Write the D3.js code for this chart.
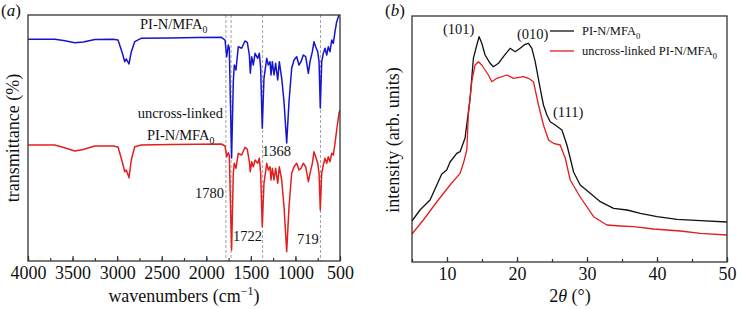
<!DOCTYPE html>
<html>
<head>
<meta charset="utf-8">
<script src="https://cdn.jsdelivr.net/npm/d3@7"></script>
<style>
  body { margin: 0; background: #fff; }
  svg text { font-family: "Liberation Serif", "DejaVu Serif", serif; fill: #111; }
</style>
</head>
<body>
<svg id="chart" width="737" height="309"></svg>
<script>
// ---- panel (a): FTIR, wavenumbers in cm-1, transmittance in arb. units (curves offset)
const wavenumbers = [4000, 3700, 3600, 3476, 3380, 3250, 3046, 2990, 2942, 2915, 2897, 2867, 2841, 2803, 2732, 2400, 2100, 1831,
  1790, 1771, 1753, 1742, 1716, 1697, 1686, 1667, 1641, 1603, 1566, 1540, 1517, 1506, 1491, 1472, 1453, 1423, 1405,
  1390, 1372, 1353, 1322, 1304, 1285, 1274, 1259, 1240, 1222, 1199, 1181, 1154, 1128, 1098, 1072, 1042, 1016, 986,
  960, 937, 912, 885, 855, 836, 810, 792, 773, 750, 735, 721, 705, 687, 668, 649, 631, 612, 593, 575, 556, 537, 511, 500]
const ftirCrosslinked = [221.7, 221.7, 220.5, 218.3, 219, 221.5, 221.7, 221, 208, 199.3, 202, 197, 209.3, 219.3, 222.7, 223, 223.5, 223.7,
  221, 204.3, 216, 213, 103, 179.3, 196, 191, 214.3, 212.7, 220, 218.7, 206, 187.7, 204.3, 196, 207.7, 202.7, 207.7,
  192.7, 132.7, 182.7, 202.7, 196, 199.3, 186, 199.3, 186, 197.7, 181, 199.3, 182.7, 159.3, 118, 159.3, 192.7, 201, 204.3,
  196, 199.3, 206, 204.3, 187.7, 199.3, 209.3, 219.3, 214.3, 209.3, 199.3, 153, 199.3, 207.7, 212.7, 206, 214.3, 209.3, 221, 217.7, 229.3, 239.3, 246, 249]
const ftirUncrosslinked = [116, 116, 113.5, 110, 111.5, 115, 115, 114, 99, 89.3, 91, 83.3, 101, 114.3, 116, 116.5, 116.7, 117,
  115, 104.3, 108.3, 106, 11, 87.7, 97.7, 92.7, 107.7, 106, 113.7, 111.7, 99.3, 89.3, 99.3, 94.3, 101, 97.7, 102.7,
  87.7, 34.3, 77.7, 97.7, 91, 94.3, 81, 92.7, 81, 92.7, 77.7, 94.3, 81, 54.3, 9.3, 54.3, 87.7, 94.3, 97.7,
  91, 92.7, 97.7, 94.3, 79.3, 87.7, 97.7, 109.3, 104.3, 97.7, 87.7, 51, 87.7, 96, 102.7, 97.7, 104.3, 99.3, 107.7, 106, 117.7, 131, 148, 151]
const ftirMarks = [1780, 1722, 1368, 719]
const ftirTicks = [4000, 3500, 3000, 2500, 2000, 1500, 1000, 500]

// ---- panel (b): XRD, 2theta in degrees, intensity in arb. units
const twoThetaCrosslinked = [5, 6.14, 7.58, 9.25, 9.96, 10.44, 11.39, 11.87, 12.58, 13.3, 13.77, 14.26, 14.59, 14.97,
  15.44, 16.16, 16.63, 17.35, 18.06, 19.02, 19.74, 20.45, 21.17, 21.64, 22.12, 22.6, 23.31, 23.78, 24.27, 24.74,
  25.46, 26.42, 27.13, 27.6, 28.08, 29.03, 30.46, 31.9, 33.8, 35.72, 37.62, 40.01, 42.87, 46.2, 50]
const xrdCrosslinked = [41, 52, 62, 88, 92, 100, 108.7, 110.3, 124, 163.7, 203.7, 217, 225.3, 218.7,
  207, 198.7, 195.3, 198.7, 205.3, 213.7, 210.3, 213.7, 217.7, 218.7, 213.7, 200.3, 173.7, 157, 147, 140.3,
  137, 132, 117, 104, 90, 77, 68.7, 60.3, 53.7, 52, 48.7, 45.3, 42.7, 41.3, 40]
const twoThetaUncrosslinked = [5, 6.62, 8.53, 10.44, 11.87, 12.34, 12.83, 13.05, 13.54, 14.01, 14.49, 14.97, 15.92,
  16.4, 17.12, 18.55, 19.49, 20.92, 21.64, 22.35, 23.07, 23.78, 24.5, 25.21, 26.17, 26.89, 27.6, 29.03, 30.94,
  32.85, 34.76, 36.66, 39.52, 43.34, 46.2, 50]
const xrdUncrosslinked = [28, 42, 60, 77, 88.7, 98.7, 112, 147, 180.3, 197, 200.3, 197, 187,
  180.3, 183.7, 187, 183.7, 185.3, 183.7, 180.3, 157, 137, 122, 118.7, 117, 104, 82, 65, 45.3,
  37, 36, 35.3, 33, 31, 28.7, 27]
const xrdTicks = [10, 20, 30, 40, 50]
const xrdPeaks = ['(101)', '(010)', '(111)']

const svg = d3.select('#chart')
const FS = 18

function addLabel(g, x, y, main, sub, size, anchor) {
  let t = g.append('text')
    .attr('x', x).attr('y', y)
    .attr('font-size', size)
    .attr('text-anchor', anchor || 'start')
  t.append('tspan').text(main)
  if (sub) {
    t.append('tspan').attr('font-size', size * 0.68).attr('dy', size * 0.28).text(sub)
  }
  return t
}

function drawAxis(g, scale, y, major, minor, fmt) {
  g.append('g')
    .attr('transform', `translate(0,${y})`)
    .call(d3.axisBottom(scale).tickValues(minor).tickSize(-3).tickFormat(''))
    .call(a => a.select('.domain').remove())
    .call(a => a.selectAll('line').attr('stroke', '#333').attr('stroke-width', 1.2))
  g.append('g')
    .attr('transform', `translate(0,${y})`)
    .call(d3.axisBottom(scale).tickValues(major).tickSize(-5).tickPadding(5).tickFormat(fmt))
    .call(a => a.select('.domain').remove())
    .call(a => a.selectAll('line').attr('stroke', '#333').attr('stroke-width', 1.2))
    .call(a => a.selectAll('text').attr('font-size', FS).attr('font-family', '"Liberation Serif", serif').attr('fill', '#111'))
}

// ================= panel (a)
let gA = svg.append('g')
let xA = d3.scaleLinear().domain([4000, 500]).range([28, 340])
let yA = d3.scaleLinear().domain([0, 246]).range([261, 15])

svg.append('defs').append('clipPath').attr('id', 'clipA')
  .append('rect').attr('x', 28).attr('y', 15).attr('width', 312).attr('height', 246)

gA.selectAll('line.mark')
  .data(ftirMarks)
  .join('line')
  .attr('class', 'mark')
  .attr('x1', d => xA(d)).attr('x2', d => xA(d))
  .attr('y1', yA.range()[1]).attr('y2', yA.range()[0])
  .attr('stroke', '#888').attr('stroke-width', 0.8).attr('stroke-dasharray', '3,2')

let lineA = d3.line()
  .x((d, i) => xA(wavenumbers[i]))
  .y(d => yA(d))

gA.append('path')
  .attr('d', lineA(ftirCrosslinked))
  .attr('clip-path', 'url(#clipA)')
  .attr('fill', 'none').attr('stroke', '#1515d0').attr('stroke-width', 1.5).attr('stroke-linejoin', 'round')
gA.append('path')
  .attr('d', lineA(ftirUncrosslinked))
  .attr('clip-path', 'url(#clipA)')
  .attr('fill', 'none').attr('stroke', '#e41e1e').attr('stroke-width', 1.5).attr('stroke-linejoin', 'round')

gA.append('rect')
  .attr('x', 28).attr('y', 15).attr('width', 312).attr('height', 246)
  .attr('fill', 'none').attr('stroke', '#333').attr('stroke-width', 1.3)

drawAxis(gA, xA, 261, ftirTicks, d3.range(500, 4001, 250), d3.format('d'))

addLabel(gA, 140, 29, 'PI-N/MFA', '0', 14.5)
addLabel(gA, 223, 118, 'uncross-linked', null, 14.5, 'end')
addLabel(gA, 147, 140, 'PI-N/MFA', '0', 14.5)
addLabel(gA, 195, 198, '1780', null, 14.5)
addLabel(gA, 233, 241, '1722', null, 14.5)
addLabel(gA, 262, 156, '1368', null, 14.5)
addLabel(gA, 297, 244, '719', null, 14.5)

let xlabA = gA.append('text').attr('x', 184).attr('y', 302).attr('text-anchor', 'middle').attr('font-size', FS)
xlabA.append('tspan').text('wavenumbers (cm')
xlabA.append('tspan').attr('font-size', 12).attr('dy', -7).text('\u22121')
xlabA.append('tspan').attr('dy', 7).text(')')

gA.append('text')
  .attr('transform', 'translate(19,138) rotate(-90)')
  .attr('text-anchor', 'middle').attr('font-size', FS)
  .text('transmittance (%)')

let tagA = gA.append('text').attr('x', 1).attr('y', 16).attr('font-size', 17)
tagA.append('tspan').text('(')
tagA.append('tspan').attr('font-style', 'italic').text('a')
tagA.append('tspan').text(')')

// ================= panel (b)
let gB = svg.append('g')
let xB = d3.scaleLinear().domain([5, 50]).range([412, 727])
let yB = d3.scaleLinear().domain([0, 246]).range([262, 16])

gB.append('path')
  .datum(xrdCrosslinked)
  .attr('d', d3.line().x((d, i) => xB(twoThetaCrosslinked[i])).y(d => yB(d)))
  .attr('fill', 'none').attr('stroke', '#111').attr('stroke-width', 1.3).attr('stroke-linejoin', 'round')
gB.append('path')
  .datum(xrdUncrosslinked)
  .attr('d', d3.line().x((d, i) => xB(twoThetaUncrosslinked[i])).y(d => yB(d)))
  .attr('fill', 'none').attr('stroke', '#e41e1e').attr('stroke-width', 1.3).attr('stroke-linejoin', 'round')

gB.append('rect')
  .attr('x', 412).attr('y', 16).attr('width', 315).attr('height', 246)
  .attr('fill', 'none').attr('stroke', '#333').attr('stroke-width', 1.3)

drawAxis(gB, xB, 262, xrdTicks, d3.range(5, 51, 5), d3.format('d'))

addLabel(gB, 443, 34, xrdPeaks[0], null, 14.5)
addLabel(gB, 517, 39, xrdPeaks[1], null, 14.5)
addLabel(gB, 553, 117, xrdPeaks[2], null, 14.5)

// legend
gB.append('line').attr('x1', 550).attr('x2', 574).attr('y1', 31).attr('y2', 31)
  .attr('stroke', '#111').attr('stroke-width', 1.3)
addLabel(gB, 582, 35, 'PI-N/MFA', '0', 12.5)
gB.append('line').attr('x1', 550).attr('x2', 574).attr('y1', 51).attr('y2', 51)
  .attr('stroke', '#e41e1e').attr('stroke-width', 1.3)
addLabel(gB, 582, 55, 'uncross-linked PI-N/MFA', '0', 12.5)

let xlabB = gB.append('text').attr('x', 570).attr('y', 302).attr('text-anchor', 'middle').attr('font-size', FS)
xlabB.append('tspan').text('2')
xlabB.append('tspan').attr('font-style', 'italic').text('\u03b8')
xlabB.append('tspan').text(' (\u00b0)')

gB.append('text')
  .attr('transform', 'translate(399,140) rotate(-90)')
  .attr('text-anchor', 'middle').attr('font-size', FS)
  .text('intensity (arb. units)')

let tagB = gB.append('text').attr('x', 385).attr('y', 16).attr('font-size', 17)
tagB.append('tspan').text('(')
tagB.append('tspan').attr('font-style', 'italic').text('b')
tagB.append('tspan').text(')')
</script>
</body>
</html>
